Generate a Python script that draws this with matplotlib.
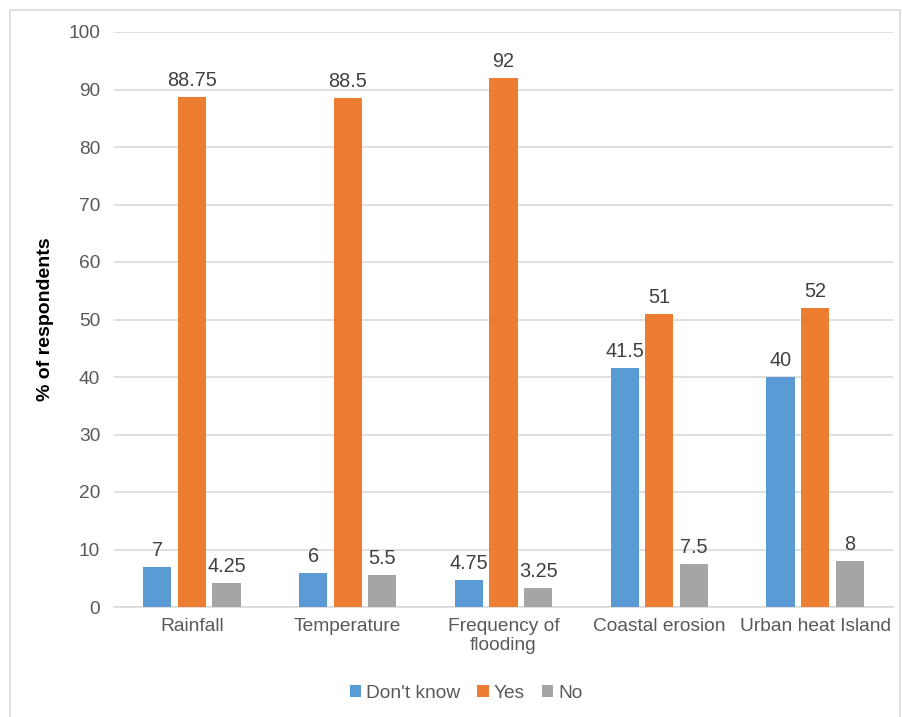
import matplotlib
matplotlib.use("Agg")
import matplotlib.pyplot as plt
import numpy as np
from matplotlib.patches import Rectangle

categories = ["Rainfall", "Temperature", "Frequency of\nflooding", "Coastal erosion", "Urban heat Island"]
series_names = ["Don't know", "Yes", "No"]
dont_know = [7, 6, 4.75, 41.5, 40]
yes = [88.75, 88.5, 92, 51, 52]
no = [4.25, 5.5, 3.25, 7.5, 8]
colors = ["#5B9BD5", "#ED7D31", "#A5A5A5"]

plt.rcParams['font.family'] = ['Liberation Sans', 'DejaVu Sans']

W, H = 903, 717
fig = plt.figure(figsize=(W/100, H/100), dpi=100)
ax = fig.add_axes([114/W, 1-607/H, (893-114)/W, (607-32)/H])

x = np.arange(len(categories))
width = 0.18
offsets = [-0.222, 0, 0.222]
data = [dont_know, yes, no]
for vals, off, c, name in zip(data, offsets, colors, series_names):
    bars = ax.bar(x + off, vals, width, color=c, label=name, zorder=3)
    for b, v in zip(bars, vals):
        ax.annotate(f"{v:g}", (b.get_x()+b.get_width()/2, v), xytext=(0, 5),
                    textcoords="offset points", ha="center", va="bottom",
                    fontsize=14.3, color="#404040")

ax.set_xlim(-0.5, len(categories)-0.5)
ax.set_ylim(0, 100)
ax.set_yticks(np.arange(0, 101, 10))
ax.set_xticks(x)
ax.set_xticklabels(categories, fontsize=13.8, color="#595959", linespacing=1.15)
ax.tick_params(axis='y', labelsize=13.8, labelcolor="#595959", length=0, pad=10)
ax.tick_params(axis='x', length=0, pad=8)
ax.grid(axis='y', color="#D9D9D9", linewidth=1.2, zorder=0)
for s in ["top", "right", "left"]:
    ax.spines[s].set_visible(False)
ax.spines["bottom"].set_color("#D9D9D9")
ax.spines["bottom"].set_linewidth(1.2)
ax.set_ylabel("% of respondents", fontsize=14, fontweight="bold", color="black", labelpad=10)

fig.legend(loc="center", bbox_to_anchor=(466/W, 1-693/H), ncol=3, frameon=False,
           fontsize=13.8, labelcolor="#595959", handlelength=0.6, handleheight=0.6,
           handletextpad=0.25, columnspacing=0.9)

fig.patches.append(Rectangle((10/W, -0.01), (900-10)/W, (717-10)/H + 0.01, transform=fig.transFigure,
                             fill=False, edgecolor="#D9D9D9", linewidth=1.2))

fig.savefig("out.png", dpi=100)
